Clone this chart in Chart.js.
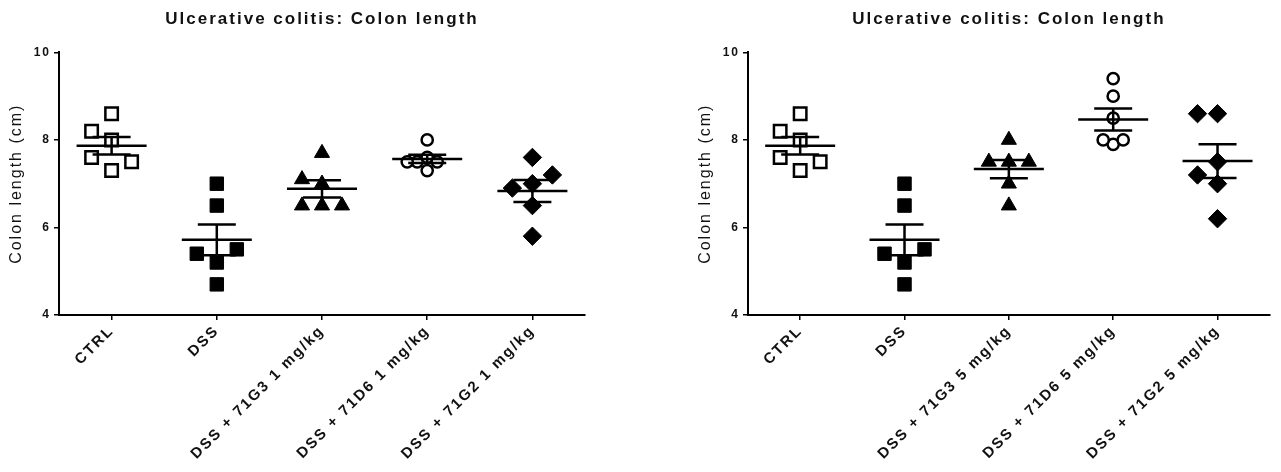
<!DOCTYPE html>
<html>
<head>
<meta charset="utf-8">
<title>Ulcerative colitis: Colon length</title>
<script src="https://cdn.jsdelivr.net/npm/chart.js@4.4.0/dist/chart.umd.min.js"></script>
<style>
  html, body { margin: 0; padding: 0; background: #fff; }
  .row { display: flex; width: 1281px; height: 472px; }
  canvas { display: block; }
</style>
</head>
<body>
<div class="row">
  <canvas id="lowDose" width="640" height="472"></canvas>
  <canvas id="highDose" width="641" height="472"></canvas>
</div>
<script>
const lowDoseGroups = ['CTRL', 'DSS', 'DSS + 71G3 1 mg/kg', 'DSS + 71D6 1 mg/kg', 'DSS + 71G2 1 mg/kg'];
const highDoseGroups = ['CTRL', 'DSS', 'DSS + 71G3 5 mg/kg', 'DSS + 71D6 5 mg/kg', 'DSS + 71G2 5 mg/kg'];

// colon length per mouse (cm)
const ctrl = [8.6, 8.2, 8.0, 7.6, 7.3, 7.5];
const dss = [7.0, 6.5, 5.2, 5.4, 5.5, 4.7];
const g3Low = [7.7, 7.0, 7.1, 6.5, 6.5, 6.5];
const d6Low = [8.0, 7.3, 7.5, 7.6, 7.5, 7.5];
const g2Low = [7.6, 7.0, 6.9, 7.2, 6.5, 5.8];
const g3High = [8.0, 7.5, 7.5, 7.5, 7.0, 6.5];
const d6High = [9.4, 9.0, 8.5, 7.9, 8.0, 8.0];
const g2High = [8.6, 8.6, 7.5, 7.2, 7.0, 6.2];

const yTicks = [4, 6, 8, 10];

const FONT = "'Liberation Sans', Arial, sans-serif";
const INK = '#111';

// one symbol per group; step/gap drive the horizontal scatter of the dots
const symbols = [
  { pointStyle: 'rect', radius: 8.8, fill: '#fff', border: 2.5, step: 20, gap: 19.5 },
  { pointStyle: 'rect', radius: 9.5, fill: '#000', border: 1, step: 20, gap: 19.5 },
  { pointStyle: 'triangle', radius: 8.7, fill: '#000', border: 1, step: 20, gap: 19.5 },
  { pointStyle: 'circle', radius: 5.6, fill: '#fff', border: 2.5, step: 10, gap: 10 },
  { pointStyle: 'rectRot', radius: 9.2, fill: '#000', border: 1, step: 20, gap: 19.5 }
];

// GraphPad-style wide lettering on every label
const wideText = {
  id: 'wideText',
  beforeUpdate(chart) { chart.ctx.letterSpacing = '2px'; },
  beforeDraw(chart) { chart.ctx.letterSpacing = '2px'; }
};

// centre the title over the plot area rather than the whole canvas
const titleOverPlot = {
  id: 'titleOverPlot',
  afterLayout(chart) {
    if (!chart.titleBlock) return;
    chart.titleBlock.left = chart.chartArea.left;
    chart.titleBlock.right = chart.chartArea.right;
  }
};

// mean line with SEM whiskers over each column
const meanSem = {
  id: 'meanSem',
  afterDatasetsDraw(chart) {
    const { ctx, scales: { x, y } } = chart;
    ctx.save();
    ctx.strokeStyle = '#000';
    ctx.lineWidth = 2.5;
    chart.data.datasets.forEach((ds, i) => {
      const vals = ds.data.map(p => p.y);
      const n = vals.length;
      const mean = vals.reduce((a, b) => a + b, 0) / n;
      const sd = Math.sqrt(vals.reduce((a, b) => a + (b - mean) ** 2, 0) / (n - 1));
      const sem = sd / Math.sqrt(n);
      const cx = x.getPixelForValue(i);
      const ym = y.getPixelForValue(mean);
      const yh = y.getPixelForValue(mean + sem);
      const yl = y.getPixelForValue(mean - sem);
      ctx.beginPath();
      ctx.moveTo(cx - 35, ym); ctx.lineTo(cx + 35, ym);
      ctx.moveTo(cx - 19, yh); ctx.lineTo(cx + 19, yh);
      ctx.moveTo(cx - 19, yl); ctx.lineTo(cx + 19, yl);
      ctx.moveTo(cx, yh); ctx.lineTo(cx, yl);
      ctx.stroke();
    });
    ctx.restore();
  }
};

// push overlapping dots sideways: centre first, then left, right, further left...
function spreadPoints(chart) {
  const { x, y } = chart.scales;
  const unit = x.getPixelForValue(1) - x.getPixelForValue(0);
  chart.data.datasets.forEach((ds, i) => {
    const { step, gap } = symbols[i];
    const placed = [];
    ds.data.forEach(p => {
      const py = y.getPixelForValue(p.y);
      let dx = 0;
      for (let k = 0; ; k++) {
        dx = Math.ceil(k / 2) * step * (k % 2 ? -1 : 1);
        if (placed.every(q => Math.hypot(q.dx - dx, q.py - py) >= gap - 0.01)) break;
      }
      placed.push({ dx, py });
      p.x = i + dx / unit;
    });
  });
  chart.update('none');
}

function makeChart(id, groups, values, pad) {
  const datasets = values.map((vals, i) => ({
    data: vals.map(v => ({ x: i, y: v })),
    pointStyle: symbols[i].pointStyle,
    pointRadius: symbols[i].radius,
    pointHoverRadius: symbols[i].radius,
    pointBackgroundColor: symbols[i].fill,
    pointBorderColor: '#000',
    pointBorderWidth: symbols[i].border,
    showLine: false
  }));

  const axisGrid = { drawOnChartArea: false, drawTicks: true, tickLength: 5, color: '#000', lineWidth: 1.5 };
  const axisBorder = { display: true, color: '#000', width: 2 };

  const chart = new Chart(document.getElementById(id), {
    type: 'scatter',
    data: { datasets },
    options: {
      responsive: false,
      animation: false,
      events: [],
      layout: { padding: { left: pad.left, right: pad.right, top: 0, bottom: 0 } },
      plugins: {
        legend: { display: false },
        tooltip: { enabled: false },
        title: {
          display: true,
          text: 'Ulcerative colitis: Colon length',
          color: INK,
          font: { family: FONT, size: 17, weight: 'bold' },
          padding: { top: 9, bottom: 23 }
        }
      },
      scales: {
        x: {
          type: 'linear',
          min: -0.5,
          max: groups.length - 0.5,
          afterBuildTicks: s => { s.ticks = groups.map((_, i) => ({ value: i })); },
          afterFit: s => { s.height = 157; },
          ticks: {
            callback: v => groups[v],
            autoSkip: false,
            minRotation: 45,
            maxRotation: 45,
            padding: 2,
            color: INK,
            font: { family: FONT, size: 15, weight: 'bold' }
          },
          grid: axisGrid,
          border: axisBorder
        },
        y: {
          min: 4,
          max: 10,
          afterBuildTicks: s => { s.ticks = yTicks.map(v => ({ value: v })); },
          afterFit: s => { s.width = 59; },
          title: {
            display: true,
            text: 'Colon length (cm)',
            color: INK,
            font: { family: FONT, size: 16 },
            padding: { top: 7, bottom: 0 }
          },
          ticks: {
            padding: 3,
            color: INK,
            font: { family: FONT, size: 12, weight: 'bold' }
          },
          grid: axisGrid,
          border: axisBorder
        }
      }
    },
    plugins: [wideText, titleOverPlot, meanSem]
  });
  spreadPoints(chart);
  return chart;
}

makeChart('lowDose', lowDoseGroups, [ctrl, dss, g3Low, d6Low, g2Low], { left: 0, right: 55 });
makeChart('highDose', highDoseGroups, [ctrl, dss, g3High, d6High, g2High], { left: 49, right: 8 });
</script>
</body>
</html>
